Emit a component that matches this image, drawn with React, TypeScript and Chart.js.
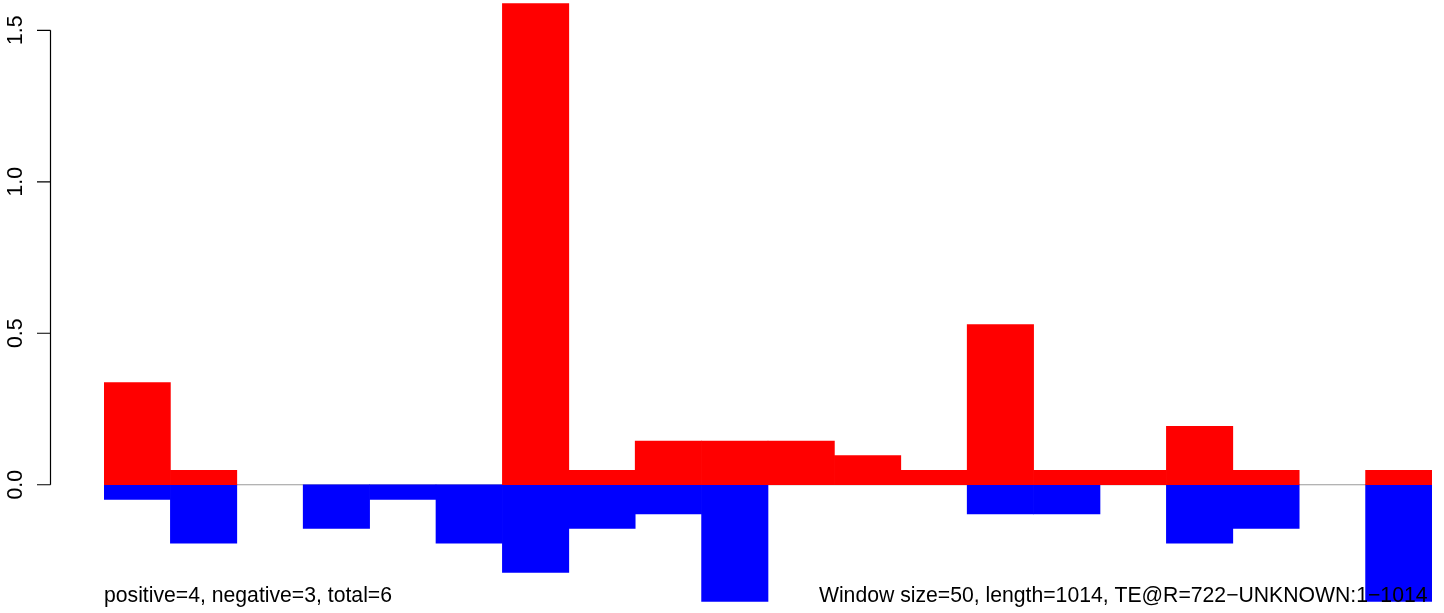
import React, { useEffect, useRef } from "react";
import { Chart, registerables } from "chart.js";

Chart.register(...registerables);

// 20 windows of 50 bp over a 1014 bp element
const windows: string[] = [
  "1-50", "51-100", "101-150", "151-200", "201-250", "251-300", "301-350",
  "351-400", "401-450", "451-500", "501-550", "551-600", "601-650", "651-700",
  "701-750", "751-800", "801-850", "851-900", "901-950", "951-1014",
];

const positiveValues: (number | null)[] = [
  0.337, 0.048, null, null, null, null, 1.588, 0.048, 0.144, 0.144,
  0.144, 0.096, 0.048, 0.529, 0.048, 0.048, 0.193, 0.048, null, 0.048,
];

const negativeValues: (number | null)[] = [
  -0.048, -0.193, null, -0.144, -0.048, -0.193, -0.289, -0.144, -0.096, -0.385,
  null, null, null, -0.096, -0.096, null, -0.193, -0.144, null, -0.385,
];

const yTickValues: number[] = [0, 0.5, 1.0, 1.5];
const yTickLabels: string[] = ["0.0", "0.5", "1.0", "1.5"];

const leftNote = "positive=4, negative=3, total=6";
const rightNote = "Window size=50, length=1014, TE@R=722\u2212UNKNOWN:1\u22121014";

const FONT = '21.2px "Liberation Sans", Arial, Helvetica, sans-serif';

const decorPlugin = {
  id: "rDecor",
  beforeDatasetsDraw(chart: any) {
    const { ctx, chartArea, scales } = chart;
    const y0 = scales.y.getPixelForValue(0);
    ctx.save();
    ctx.strokeStyle = "#9a9a9a";
    ctx.lineWidth = 1;
    ctx.beginPath();
    ctx.moveTo(chartArea.left, y0);
    ctx.lineTo(chartArea.right, y0);
    ctx.stroke();
    ctx.restore();
  },
  afterDraw(chart: any) {
    const { ctx, chartArea, scales } = chart;
    const yScale = scales.y;
    ctx.save();
    // y axis line
    const axisX = 50.5;
    const yTop = yScale.getPixelForValue(yTickValues[yTickValues.length - 1]);
    const yBot = yScale.getPixelForValue(yTickValues[0]);
    ctx.strokeStyle = "#000";
    ctx.lineWidth = 1.2;
    ctx.beginPath();
    ctx.moveTo(axisX, yTop);
    ctx.lineTo(axisX, yBot);
    yTickValues.forEach((v) => {
      const py = yScale.getPixelForValue(v);
      ctx.moveTo(37, py);
      ctx.lineTo(axisX, py);
    });
    ctx.stroke();
    // tick labels, rotated
    ctx.fillStyle = "#000";
    ctx.font = FONT;
    ctx.textAlign = "center";
    ctx.textBaseline = "alphabetic";
    yTickValues.forEach((v, i) => {
      const py = yScale.getPixelForValue(v);
      ctx.save();
      ctx.translate(22, py);
      ctx.rotate(-Math.PI / 2);
      ctx.fillText(yTickLabels[i], 0, 0);
      ctx.restore();
    });
    // notes
    ctx.textAlign = "left";
    ctx.fillText(leftNote, chartArea.left, 602);
    ctx.textAlign = "right";
    ctx.fillText(rightNote, chartArea.right - 4.5, 602);
    ctx.restore();
  },
};

export default function App() {
  const canvasRef = useRef<HTMLCanvasElement | null>(null);

  useEffect(() => {
    if (!canvasRef.current) return;
    const chart = new Chart(canvasRef.current, {
      type: "bar",
      data: {
        labels: windows,
        datasets: [
          {
            label: "positive",
            data: positiveValues,
            backgroundColor: "#ff0000",
            borderWidth: 0,
            barPercentage: 1,
            categoryPercentage: 1,
          },
          {
            label: "negative",
            data: negativeValues,
            backgroundColor: "#0000ff",
            borderWidth: 0,
            barPercentage: 1,
            categoryPercentage: 1,
          },
        ],
      },
      options: {
        animation: false,
        responsive: true,
        maintainAspectRatio: false,
        layout: { padding: { left: 104, right: 12, top: 0, bottom: 1 } },
        plugins: {
          legend: { display: false },
          tooltip: { enabled: false },
          title: { display: false },
        },
        scales: {
          x: { display: false, stacked: true },
          y: { display: false, stacked: true, min: -0.42, max: 1.6 },
        },
      },
      plugins: [decorPlugin],
    });
    return () => chart.destroy();
  }, []);

  return (
    <div style={{ position: "absolute", left: 0, top: 0, width: 1444, height: 613, background: "#fff" }}>
      <canvas ref={canvasRef} />
    </div>
  );
}
